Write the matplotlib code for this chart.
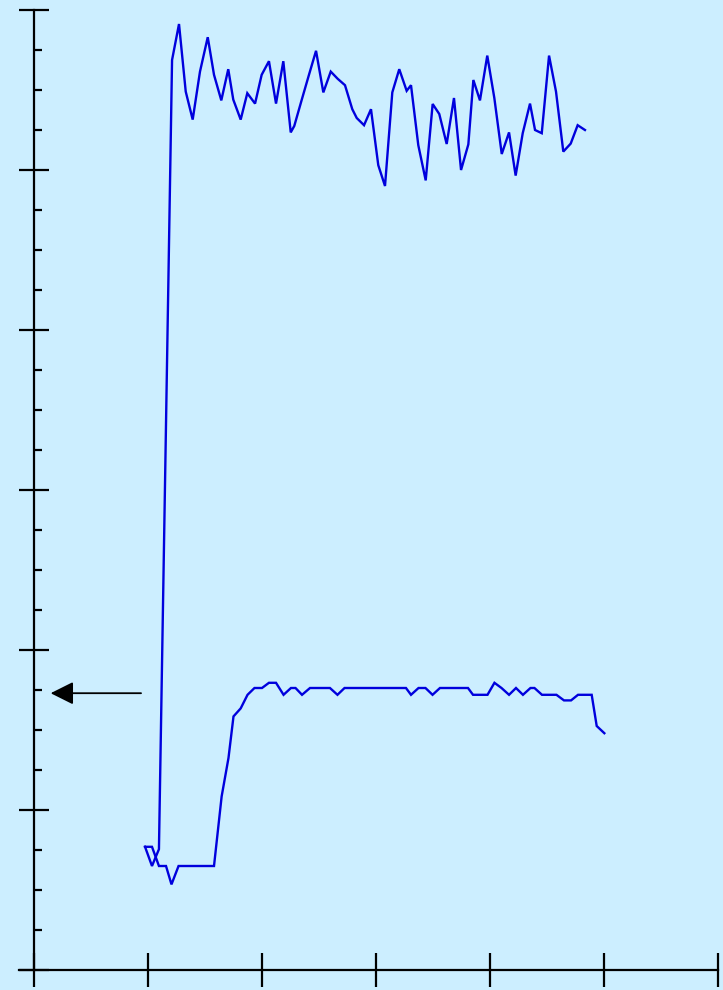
import numpy as np
import matplotlib
matplotlib.use('Agg')
from matplotlib import pyplot as plt
from matplotlib.ticker import MultipleLocator

# upper trace (noisy high level after the jump)
top_x = [9.74, 10.35, 10.96, 12.11, 12.72, 13.31, 13.92, 14.56, 15.24, 15.79,
         16.43, 17.04, 17.48, 18.13, 18.71, 19.39, 19.97, 20.61, 21.23, 21.87,
         22.52, 22.83, 23.48, 24.12, 24.74, 25.38, 26.03, 26.64, 27.28, 27.92,
         28.31, 28.95, 29.56, 30.20, 30.79, 31.43, 32.04, 32.69, 33.07, 33.71,
         34.36, 34.97, 35.55, 36.20, 36.84, 37.46, 38.10, 38.54, 39.12, 39.76,
         40.38, 41.03, 41.67, 42.25, 42.87, 43.51, 43.95, 44.54, 45.18, 45.79,
         46.43, 47.08, 47.69, 48.33]
top_y = [15.4, 13.0, 15.1, 113.75, 118.25, 109.8, 106.3, 112.3, 116.6, 111.9,
         108.7, 112.6, 108.8, 106.3, 109.6, 108.3, 111.9, 113.6, 108.3, 113.6,
         104.7, 105.5, 108.75, 111.9, 114.9, 109.7, 112.3, 111.4, 110.6, 107.6,
         106.5, 105.6, 107.6, 100.6, 98.0, 109.7, 112.6, 109.9, 110.6, 103.1,
         98.7, 108.25, 107.0, 103.25, 109.0, 100.0, 103.2, 111.25, 108.7, 114.3,
         109.0, 102.0, 104.7, 99.3, 104.6, 108.3, 105.0, 104.6, 114.3, 109.8,
         102.3, 103.3, 105.6, 105.0]

# lower trace (slow rise to a plateau)
low_x = [9.74, 10.35, 10.96, 11.58, 12.06, 12.68, 15.79, 16.46, 17.06, 17.50,
         18.13, 18.73, 19.34, 20.0, 20.61, 21.23, 21.89, 22.54, 22.94, 23.51,
         24.21, 25.96, 26.62, 27.24, 32.63, 33.07, 33.73, 34.34, 34.96, 35.61,
         38.07, 38.51, 39.78, 40.39, 41.01, 41.67, 42.28, 42.89, 43.55, 43.90,
         44.56, 45.83, 46.49, 47.11, 47.72, 48.92, 49.36, 50.03]
low_y = [15.4, 15.4, 13.0, 13.0, 10.7, 13.0, 13.0, 21.7, 26.5, 31.7,
         32.7, 34.4, 35.25, 35.25, 35.9, 35.9, 34.4, 35.25, 35.25, 34.4,
         35.25, 35.25, 34.4, 35.25, 35.25, 34.4, 35.25, 35.25, 34.4, 35.25,
         35.25, 34.4, 34.4, 35.9, 35.25, 34.4, 35.25, 34.4, 35.25, 35.25,
         34.4, 34.4, 33.7, 33.7, 34.4, 34.4, 30.5, 29.6]

arrow_y = 34.6
arrow_from = 9.39
arrow_to = 1.46

bg = '#cceeff'
line_c = '#0000dd'

fig = plt.figure(figsize=(7.23, 9.9), dpi=100, facecolor=bg)
ax = fig.add_axes([19/723, 20/990, 699/723, 960/990], facecolor=bg)

ax.plot(top_x, top_y, color=line_c, lw=1.7, solid_joinstyle='miter')
ax.plot(low_x, low_y, color=line_c, lw=1.7, solid_joinstyle='miter')

ax.annotate('', xy=(arrow_to, arrow_y), xytext=(arrow_from, arrow_y),
            arrowprops=dict(arrowstyle='-|>,head_length=1.4,head_width=0.7',
                            mutation_scale=10, lw=1.3, color='black',
                            shrinkA=0, shrinkB=0))

ax.set_xlim(-15/11.4, 60)
ax.set_ylim(0, 120)

for s in ['top', 'right']:
    ax.spines[s].set_visible(False)
ax.spines['left'].set_position(('data', 0))
for s in ['left', 'bottom']:
    ax.spines[s].set_linewidth(1.6)
    ax.spines[s].set_color('black')

ax.xaxis.set_major_locator(MultipleLocator(10))
ax.yaxis.set_major_locator(MultipleLocator(20))
ax.yaxis.set_minor_locator(MultipleLocator(5))
ax.tick_params(axis='x', which='major', direction='inout', length=24, width=1.6,
               labelbottom=False)
ax.tick_params(axis='y', which='major', direction='inout', length=21, width=1.6,
               labelleft=False)
ax.tick_params(axis='y', which='minor', direction='in', length=5.5, width=1.6)

fig.savefig('out.png', dpi=100, facecolor=bg)
